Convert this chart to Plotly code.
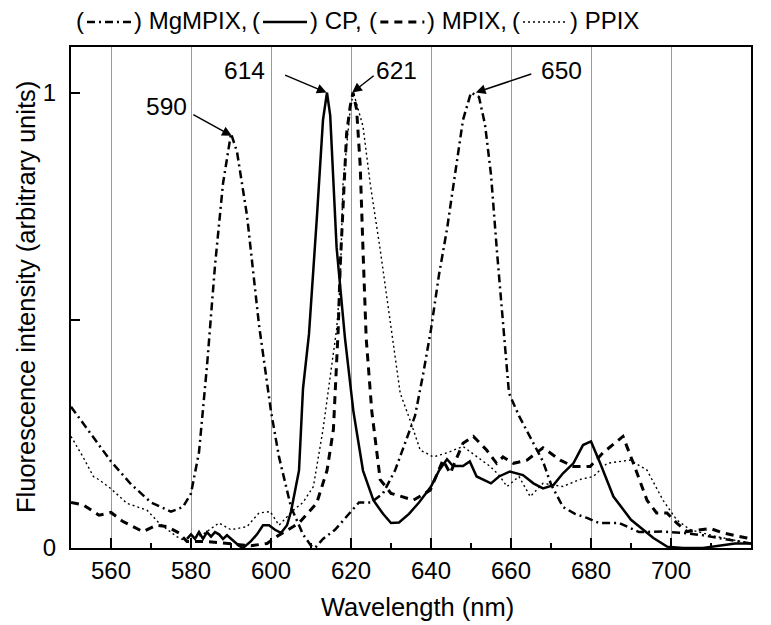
import plotly.graph_objects as go

# ---------------- data ----------------
mg_x = [550, 555, 560, 565, 570, 575, 578, 580, 582, 584, 586, 588, 590, 591.5, 594, 597, 600, 602, 605, 608, 610, 611,
        613, 616, 620, 622, 625, 628, 631, 634, 636, 638, 640, 642, 644, 646, 648, 650, 652, 653.5, 655, 656.5, 658,
        659.5, 662, 665, 668, 670, 673, 676, 679, 682, 687, 692, 698, 703, 708, 713, 720]
mg_y = [0.31, 0.25, 0.19, 0.14, 0.10, 0.08, 0.09, 0.12, 0.21, 0.40, 0.62, 0.80, 0.91, 0.87, 0.73, 0.49, 0.30, 0.20,
        0.09, 0.03, 0.005, 0.0, 0.02, 0.04, 0.08, 0.10, 0.10, 0.12, 0.17, 0.24, 0.29, 0.38, 0.48, 0.60, 0.70, 0.82,
        0.94, 1.0, 0.99, 0.93, 0.82, 0.65, 0.49, 0.34, 0.29, 0.24, 0.19, 0.14, 0.09, 0.075, 0.066, 0.055, 0.055,
        0.035, 0.036, 0.033, 0.028, 0.02, 0.01]

cp_x = [579, 580, 581, 582, 583, 584, 585, 586, 587, 588, 589, 590, 592, 593, 595, 596.5, 598, 599.5, 601, 602.5,
        604, 605, 607, 608, 609.5, 611.5, 613, 614, 614.8, 616.4, 618.5, 620.6, 623, 625.6, 628, 630, 632, 634.5,
        637, 640, 642, 644, 645.5, 648, 649.7, 651.4, 653, 655, 657, 659.7, 663, 665.6, 668, 670.6, 673, 675.6, 678,
        680, 682.3, 685.6, 690, 692, 695.6, 699, 703, 708, 712, 716, 720]
cp_y = [0.02, 0.03, 0.02, 0.035, 0.02, 0.035, 0.025, 0.035, 0.03, 0.02, 0.028, 0.02, 0.005, 0.0, 0.015, 0.03, 0.05,
        0.05, 0.04, 0.033, 0.05, 0.08, 0.17, 0.35, 0.47, 0.73, 0.94, 1.0, 0.95, 0.66, 0.46, 0.30, 0.17, 0.105, 0.075,
        0.055, 0.056, 0.075, 0.10, 0.135, 0.17, 0.195, 0.18, 0.18, 0.19, 0.157, 0.15, 0.142, 0.157, 0.168, 0.16,
        0.142, 0.131, 0.138, 0.164, 0.186, 0.226, 0.234, 0.186, 0.113, 0.062, 0.047, 0.022, 0.003, 0.0, 0.0, 0.005,
        0.01, 0.01]

mp_x = [550, 553, 557, 560, 563, 568, 571.4, 574, 577, 579, 584, 590, 595, 599, 601.4, 605.6, 607, 611.4, 614, 615.6,
        616.4, 616.8, 617.3, 618.1, 618.9, 619.8, 620.5, 621.4, 622.3, 623, 623.8, 625.2, 627.3, 630, 633, 635.6,
        639.8, 643, 644.8, 648, 650.6, 653.9, 656.4, 658, 660.6, 664, 668, 672.3, 675.6, 679.8, 683, 688, 690.6, 694,
        696.4, 699, 701.4, 704, 709.8, 713, 719, 720]
mp_y = [0.10, 0.095, 0.072, 0.078, 0.058, 0.036, 0.05, 0.047, 0.033, 0.014, 0.014, 0.01, 0.005, 0.01, 0.025, 0.047,
        0.055, 0.098, 0.17, 0.26, 0.406, 0.48, 0.618, 0.765, 0.91, 0.97, 1.0, 0.963, 0.84, 0.655, 0.46, 0.30, 0.15,
        0.12, 0.112, 0.105, 0.127, 0.193, 0.164, 0.23, 0.245, 0.215, 0.186, 0.2, 0.186, 0.193, 0.22, 0.193, 0.179,
        0.179, 0.209, 0.245, 0.186, 0.105, 0.077, 0.077, 0.055, 0.036, 0.043, 0.033, 0.022, 0.02]

pp_x = [550, 553, 555.6, 557, 560, 564, 569, 572, 576.4, 579, 583, 587, 590, 594, 597, 599.8, 602, 605.6, 608, 610.6,
        613, 615.2, 616.4, 617.3, 618, 619.8, 620.6, 623, 624.8, 627.3, 630.5, 632.3, 634.8, 637.3, 640.6, 644, 648,
        651.4, 654.8, 657, 659, 662, 664.8, 668, 673, 677, 680.6, 684, 689.8, 694, 698, 701.4, 704.8, 711.4, 719, 720]
pp_y = [0.245, 0.20, 0.157, 0.15, 0.13, 0.098, 0.083, 0.055, 0.025, 0.014, 0.03, 0.055, 0.04, 0.047, 0.077, 0.08,
        0.05, 0.083, 0.10, 0.135, 0.26, 0.406, 0.48, 0.58, 0.8, 0.963, 1.0, 0.926, 0.8, 0.655, 0.457, 0.34, 0.28,
        0.215, 0.2, 0.209, 0.223, 0.2, 0.179, 0.16, 0.135, 0.157, 0.113, 0.142, 0.135, 0.15, 0.157, 0.186, 0.193,
        0.171, 0.105, 0.062, 0.04, 0.025, 0.011, 0.01]

series_names = ["MgMPIX", "CP", "MPIX", "PPIX"]
legend_labels = ["MgMPIX,", "CP,", "MPIX,", "PPIX"]
peak_labels = ["590", "614", "621", "650"]
peak_x = [590.2, 613.9, 620.3, 651.2]
peak_y = [0.905, 1.0, 1.0, 1.0]
label_x = [573.75, 593.4, 631.4, 672.5]
label_y = [0.969, 1.049, 1.049, 1.049]
arrow_ax = [-40, -43, 23, 57]
arrow_ay = [-22, -18, -18, -19]

x_ticks = [560, 580, 600, 620, 640, 660, 680, 700, 720]
y_ticks = [0, 0.5, 1]
y_ticktext = ["0", "", "1"]

x_title = "Wavelength (nm)"
y_title = "Fluorescence intensity (arbitrary units)"

# ---------------- figure ----------------
# the page body has an 8px margin, so the figure is drawn 8px smaller
OFF = 8
W, H = 771 - OFF, 625 - OFF
ML, MT = 71 - OFF, 47 - OFF
PLOT_R, PLOT_B = 751 - OFF, 548 - OFF
MR, MB = W - PLOT_R, H - PLOT_B
PW, PH = W - ML - MR, H - MT - MB

DASHDOT = "8px,4px,2px,4px"
DASH = "8px,6px"
DOT = "2px,3px"
styles = {
    "PPIX": dict(color="black", width=1.4, dash=DOT),
    "MPIX": dict(color="black", width=3, dash=DASH),
    "MgMPIX": dict(color="black", width=2.5, dash=DASHDOT),
    "CP": dict(color="black", width=2.5, dash="solid"),
}

fig = go.Figure()
for name, xs, ys in [("PPIX", pp_x, pp_y), ("MPIX", mp_x, mp_y), ("MgMPIX", mg_x, mg_y), ("CP", cp_x, cp_y)]:
    fig.add_trace(go.Scatter(x=xs, y=ys, mode="lines", name=name, line=styles[name], showlegend=False))

FONT = "Arial, Liberation Sans, sans-serif"


def px2paper_x(px):  # px = page pixel of the reference picture
    return (px - OFF - ML) / PW


def py2paper_y(py):
    return (H - MB - (py - OFF)) / PH


annotations = []
for lab, px_, py_, lx, ly, ax, ay in zip(peak_labels, peak_x, peak_y, label_x, label_y, arrow_ax, arrow_ay):
    annotations.append(dict(x=px_, y=py_, xref="x", yref="y", text="", showarrow=True, ax=ax, ay=ay,
                            arrowhead=2, arrowsize=1.3, arrowwidth=1.5, arrowcolor="black"))
    annotations.append(dict(x=lx, y=ly, xref="x", yref="y", text=lab, showarrow=False,
                            font=dict(size=24.5, color="black", family=FONT)))

# axis titles
annotations.append(dict(x=px2paper_x(417), y=py2paper_y(607), xref="paper", yref="paper", text=x_title,
                        showarrow=False, xanchor="center", yanchor="middle",
                        font=dict(size=25.5, color="black", family=FONT)))
annotations.append(dict(x=px2paper_x(26), y=py2paper_y(297), xref="paper", yref="paper", text=y_title,
                        showarrow=False, xanchor="center", yanchor="middle", textangle=-90,
                        font=dict(size=25.5, color="black", family=FONT)))

# legend-like header: "(" line ") name," chained left to right (Arial advance widths, em)
ADV = {"(": 0.333, ")": 0.333, " ": 0.278, ",": 0.278, "M": 0.833, "g": 0.556, "P": 0.667, "I": 0.278,
       "X": 0.667, "C": 0.722}
LEG_FONT = 24
LINE_LEN = 48


def text_w(s):
    return sum(ADV.get(c, 0.556) for c in s) * LEG_FONT


shapes = []
ly_px = 21
cur = 77
for name, lab in zip(series_names, legend_labels):
    st = styles[name]
    open_txt = "(" if cur == 77 else " ("
    cur_end = cur + text_w(open_txt)
    annotations.append(dict(x=px2paper_x(cur_end), y=py2paper_y(ly_px), xref="paper", yref="paper",
                            text="(", xanchor="right", yanchor="middle", showarrow=False, borderpad=0,
                            font=dict(size=LEG_FONT, color="black", family=FONT)))
    x0, x1 = cur_end, cur_end + LINE_LEN
    shapes.append(dict(type="line", xref="paper", yref="paper", x0=px2paper_x(x0 + 2), x1=px2paper_x(x1 - 2),
                       y0=py2paper_y(ly_px + 1), y1=py2paper_y(ly_px + 1),
                       line=dict(color=st["color"], width=st["width"], dash=st["dash"])))
    txt = ") " + lab
    annotations.append(dict(x=px2paper_x(x1), y=py2paper_y(ly_px), xref="paper", yref="paper",
                            text=txt, xanchor="left", yanchor="middle", showarrow=False, borderpad=0,
                            font=dict(size=LEG_FONT, color="black", family=FONT)))
    cur = x1 + text_w(txt)

fig.update_layout(
    width=W, height=H,
    margin=dict(l=ML, r=MR, t=MT, b=MB, autoexpand=False),
    paper_bgcolor="white", plot_bgcolor="white",
    font=dict(family=FONT, size=24, color="black"),
    annotations=annotations, shapes=shapes,
    showlegend=False,
)
fig.update_xaxes(
    range=[550, 720], tickvals=x_ticks, ticks="inside", ticklen=10, tickwidth=2, tickcolor="black",
    showgrid=True, gridcolor="#999999", gridwidth=1, zeroline=False,
    showline=True, linewidth=2, linecolor="black", mirror=True,
    minor=dict(ticks="inside", ticklen=5, tickwidth=2, tickcolor="black", dtick=10, tick0=550, showgrid=False),
    tickfont=dict(size=24),
)
fig.update_yaxes(
    range=[0, 1.1], tickvals=y_ticks, ticktext=y_ticktext, ticks="inside", ticklen=9, tickwidth=2,
    tickcolor="black", showgrid=False, zeroline=False,
    showline=True, linewidth=2, linecolor="black", mirror=True,
    tickfont=dict(size=24), ticklabelstandoff=8,
)

fig.write_html("out.html")
